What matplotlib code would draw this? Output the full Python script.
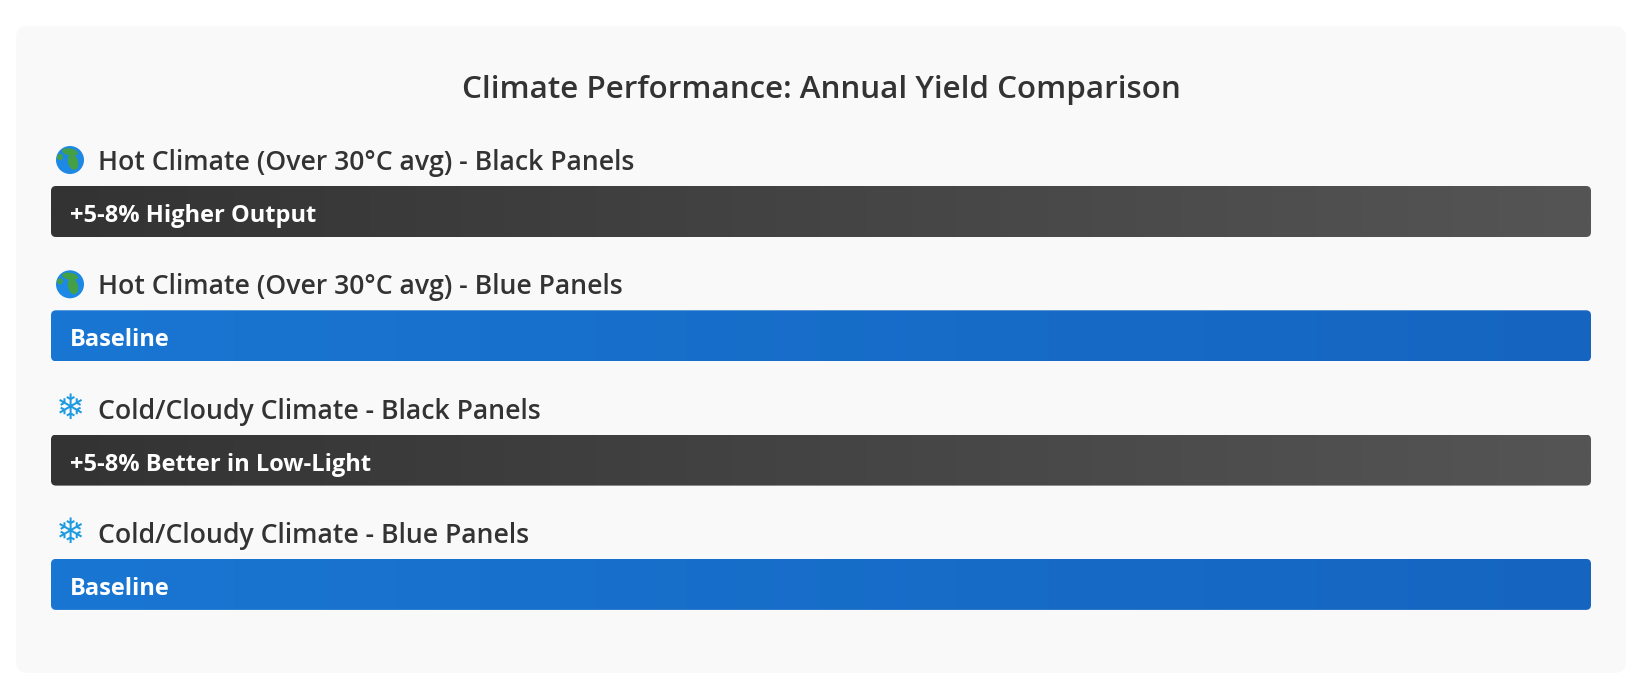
import numpy as np
import matplotlib.pyplot as plt
from matplotlib.patches import FancyBboxPatch, Circle, Ellipse

# chart content
title = "Climate Performance: Annual Yield Comparison"
row_labels = [
    "Hot Climate (Over 30°C avg) - Black Panels",
    "Hot Climate (Over 30°C avg) - Blue Panels",
    "Cold/Cloudy Climate - Black Panels",
    "Cold/Cloudy Climate - Blue Panels",
]
row_icons = ["globe", "globe", "snow", "snow"]
bar_texts = ["+5-8% Higher Output", "Baseline", "+5-8% Better in Low-Light", "Baseline"]
bar_kinds = ["black", "blue", "black", "blue"]

gradients = {
    "black": ("#333333", "#555555"),
    "blue": ("#1976d2", "#1565c0"),
}

W, H = 1642, 688
fig = plt.figure(figsize=(W / 100, H / 100), dpi=100)
fig.patch.set_facecolor("white")
ax = fig.add_axes([0, 0, 1, 1])
ax.set_xlim(0, W)
ax.set_ylim(H, 0)
ax.axis("off")

font = ["Open Sans", "DejaVu Sans"]

# card background
card = FancyBboxPatch((16, 26), 1610, 647, boxstyle="round,pad=0,rounding_size=12",
                      facecolor="#f9f9f9", edgecolor="none")
ax.add_patch(card)

ax.text(821, 98, title, ha="center", va="baseline", fontsize=22.6,
        color="#333333", family=font, weight="semibold")


def hex_rgb(h):
    h = h.lstrip("#")
    return np.array([int(h[i:i + 2], 16) / 255 for i in (0, 2, 4)])


x0, x1 = 51, 1591
bar_h = 51
step = 124.3

for i, (lab, icon, txt, kind) in enumerate(zip(row_labels, row_icons, bar_texts, bar_kinds)):
    base = 170 + i * step      # label baseline
    by = 186 + i * step        # bar top
    iy = base - 10             # icon centre

    # icon
    if icon == "globe":
        c = Circle((70, iy), 14, facecolor="#1e88e5", edgecolor="none", zorder=3)
        ax.add_patch(c)
        # rough Europe / Africa land shapes
        for (ex, ey, ew, eh, ang) in [(70, iy - 8, 16, 7, 10), (73, iy + 2, 10, 16, -15),
                                      (60, iy - 3, 6, 6, 0)]:
            e = Ellipse((ex, ey), ew, eh, angle=ang, facecolor="#43a047",
                        edgecolor="none", zorder=4)
            ax.add_patch(e)
            e.set_clip_path(c)
    else:
        ax.text(70, iy, "\u2744", ha="center", va="center", fontsize=25,
                color="#1e9be0", family="DejaVu Sans")

    ax.text(98, base, lab, ha="left", va="baseline", fontsize=19.2,
            color="#333333", family=font, weight="semibold")

    # bar with horizontal gradient
    patch = FancyBboxPatch((x0, by), x1 - x0, bar_h, boxstyle="round,pad=0,rounding_size=5",
                           facecolor="none", edgecolor="none")
    ax.add_patch(patch)
    c0, c1 = (hex_rgb(c) for c in gradients[kind])
    t = np.linspace(0, 1, 256)[None, :, None]
    grad = c0 + (c1 - c0) * t
    im = ax.imshow(grad, extent=[x0, x1, by + bar_h, by], aspect="auto",
                   interpolation="bilinear", zorder=2)
    im.set_clip_path(patch)

    ax.text(70, by + 36, txt, ha="left", va="baseline", fontsize=17,
            color="white", family=font, weight="bold", zorder=5)

fig.savefig("out.png", dpi=100, facecolor="white")
